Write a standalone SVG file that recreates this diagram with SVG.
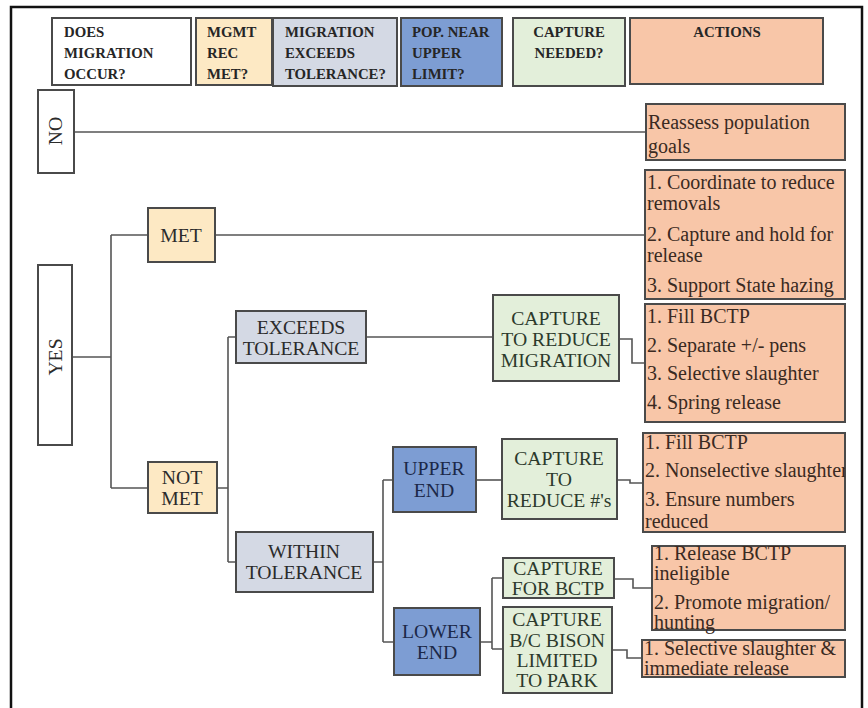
<svg xmlns="http://www.w3.org/2000/svg" width="868" height="708" viewBox="0 0 868 708">
<style>
.frame{fill:none;stroke:#111;stroke-width:2.5}
.box{stroke:#4a4a4a;stroke-width:2}
.w{fill:#ffffff}
.y{fill:#fde9c4}
.g{fill:#d4d9e4}
.b{fill:#7d9dd3}
.gr{fill:#e3efda}
.s{fill:#f8c6a8}
text{font-family:'Liberation Serif','DejaVu Serif',serif}
.hd{font-weight:bold;font-size:14.8px;fill:#262626}
.nd{font-size:19.7px;fill:#2b2b2b;text-anchor:middle}
.ndb{fill:#1b2848}
.ndg{fill:#2c3a2c}
.act{font-size:20px;fill:#3a2a22}
.con{fill:none;stroke:#555;stroke-width:1.6}
</style>
<defs>
<clipPath id="clip4"><rect x="643" y="433" width="202" height="99"/></clipPath>
</defs>
<rect class="frame" x="11" y="7" width="851" height="720"/>

<g id="header">
<g id="h-migration"><rect class="box w" x="52" y="18" width="139" height="67"/>
<text class="hd" x="64" y="37">DOES</text><text class="hd" x="64" y="58">MIGRATION</text><text class="hd" x="64" y="79">OCCUR?</text></g>
<g id="h-mgmt"><rect class="box y" x="196" y="18" width="76" height="67"/>
<text class="hd" x="207" y="37">MGMT</text><text class="hd" x="207" y="58">REC</text><text class="hd" x="207" y="79">MET?</text></g>
<g id="h-exceeds"><rect class="box g" x="273" y="18" width="124" height="68"/>
<text class="hd" x="285" y="37">MIGRATION</text><text class="hd" x="285" y="58">EXCEEDS</text><text class="hd" x="285" y="79">TOLERANCE?</text></g>
<g id="h-pop"><rect class="box b" x="401" y="18" width="101" height="68"/>
<text class="hd" x="412" y="37" fill="#1b2848">POP. NEAR</text><text class="hd" x="412" y="58" fill="#1b2848">UPPER</text><text class="hd" x="412" y="79" fill="#1b2848">LIMIT?</text></g>
<g id="h-capture"><rect class="box gr" x="513" y="18" width="112" height="68"/>
<text class="hd" x="569" y="37" text-anchor="middle" fill="#2c3a2c">CAPTURE</text><text class="hd" x="569" y="58" text-anchor="middle" fill="#2c3a2c">NEEDED?</text></g>
<g id="h-actions"><rect class="box s" x="630" y="18" width="193" height="66"/>
<text class="hd" x="727" y="37" text-anchor="middle" fill="#3a2a22">ACTIONS</text></g>
</g>

<g id="connectors">
<path class="con" d="M74 132 H646"/>
<path class="con" d="M72 357 H111 M111 235 V488 M111 235 H148 M111 488 H148"/>
<path class="con" d="M215 235 H645"/>
<path class="con" d="M217 488 H228 M228 337 V562 M228 337 H237 M228 562 H236"/>
<path class="con" d="M366 337 H493"/>
<path class="con" d="M619 339 H632 V363 H645"/>
<path class="con" d="M373 562 H383 M383 480 V642 M383 480 H393 M383 642 H394"/>
<path class="con" d="M476 480 H502"/>
<path class="con" d="M617 480 H630 V483 H643"/>
<path class="con" d="M480 642 H492 M492 578 V649 M492 578 H503 M492 649 H503"/>
<path class="con" d="M614 579 H633 V588 H652"/>
<path class="con" d="M612 650 H627 V658 H642"/>
</g>

<g id="n-no"><rect class="box w" x="38" y="90" width="36" height="83"/>
<text class="nd" transform="translate(62 131) rotate(-90)" x="0" y="0">NO</text></g>
<g id="n-yes"><rect class="box w" x="38" y="265" width="34" height="180"/>
<text class="nd" transform="translate(62 357) rotate(-90)" x="0" y="0">YES</text></g>
<g id="n-met"><rect class="box y" x="148" y="208" width="67" height="54"/>
<text class="nd" x="181" y="242">MET</text></g>
<g id="n-notmet"><rect class="box y" x="148" y="462" width="69" height="51"/>
<text class="nd" x="182" y="484">NOT</text><text class="nd" x="182" y="505">MET</text></g>
<g id="n-exceeds"><rect class="box g" x="236" y="311" width="130" height="52"/>
<text class="nd" x="301" y="334">EXCEEDS</text><text class="nd" x="301" y="355">TOLERANCE</text></g>
<g id="n-within"><rect class="box g" x="236" y="532" width="137" height="60"/>
<text class="nd" x="304" y="558">WITHIN</text><text class="nd" x="304" y="579">TOLERANCE</text></g>
<g id="n-capmig"><rect class="box gr" x="493" y="295" width="126" height="86"/>
<text class="nd ndg" x="556" y="325">CAPTURE</text><text class="nd ndg" x="556" y="346">TO REDUCE</text><text class="nd ndg" x="556" y="367">MIGRATION</text></g>
<g id="n-upper"><rect class="box b" x="393" y="447" width="83" height="65"/>
<text class="nd ndb" x="434" y="475">UPPER</text><text class="nd ndb" x="434" y="497">END</text></g>
<g id="n-lower"><rect class="box b" x="394" y="608" width="86" height="67"/>
<text class="nd ndb" x="437" y="638">LOWER</text><text class="nd ndb" x="437" y="659">END</text></g>
<g id="n-capnum"><rect class="box gr" x="502" y="439" width="115" height="80"/>
<text class="nd ndg" x="559" y="465">CAPTURE</text><text class="nd ndg" x="559" y="486">TO</text><text class="nd ndg" x="559" y="507">REDUCE #'s</text></g>
<g id="n-capbctp"><rect class="box gr" x="503" y="558" width="111" height="40"/>
<text class="nd ndg" x="558" y="575">CAPTURE</text><text class="nd ndg" x="558" y="595">FOR BCTP</text></g>
<g id="n-capbc"><rect class="box gr" x="503" y="607" width="109" height="86"/>
<text class="nd ndg" x="557" y="626">CAPTURE</text><text class="nd ndg" x="557" y="647">B/C BISON</text><text class="nd ndg" x="557" y="667">LIMITED</text><text class="nd ndg" x="557" y="687">TO PARK</text></g>

<g id="a-reassess"><rect class="box s" x="646" y="104" width="199" height="56"/>
<text class="act" x="648" y="129">Reassess population</text><text class="act" x="648" y="153">goals</text></g>
<g id="a-met"><rect class="box s" x="645" y="170" width="200" height="129"/>
<text class="act" x="647" y="189">1. Coordinate to reduce</text><text class="act" x="647" y="210">removals</text>
<text class="act" x="647" y="241">2. Capture and hold for</text><text class="act" x="647" y="262">release</text>
<text class="act" x="647" y="292">3. Support State hazing</text></g>
<g id="a-exceeds"><rect class="box s" x="645" y="304" width="200" height="118"/>
<text class="act" x="647" y="323">1. Fill BCTP</text><text class="act" x="647" y="352">2. Separate +/- pens</text>
<text class="act" x="647" y="380">3. Selective slaughter</text><text class="act" x="647" y="409">4. Spring release</text></g>
<g id="a-upper"><rect class="box s" x="643" y="433" width="202" height="99"/>
<g clip-path="url(#clip4)"><text class="act" x="645" y="449">1. Fill BCTP</text><text class="act" x="645" y="477">2. Nonselective slaughter</text>
<text class="act" x="645" y="506">3. Ensure numbers</text><text class="act" x="645" y="528">reduced</text></g></g>
<g id="a-bctp"><rect class="box s" x="652" y="546" width="193" height="84"/>
<text class="act" x="654" y="560">1. Release BCTP</text><text class="act" x="654" y="580">ineligible</text>
<text class="act" x="654" y="609">2. Promote migration/</text><text class="act" x="654" y="629">hunting</text></g>
<g id="a-bc"><rect class="box s" x="642" y="640" width="203" height="37"/>
<text class="act" x="644" y="655">1. Selective slaughter &amp;</text><text class="act" x="644" y="675">immediate release</text></g>
</svg>
